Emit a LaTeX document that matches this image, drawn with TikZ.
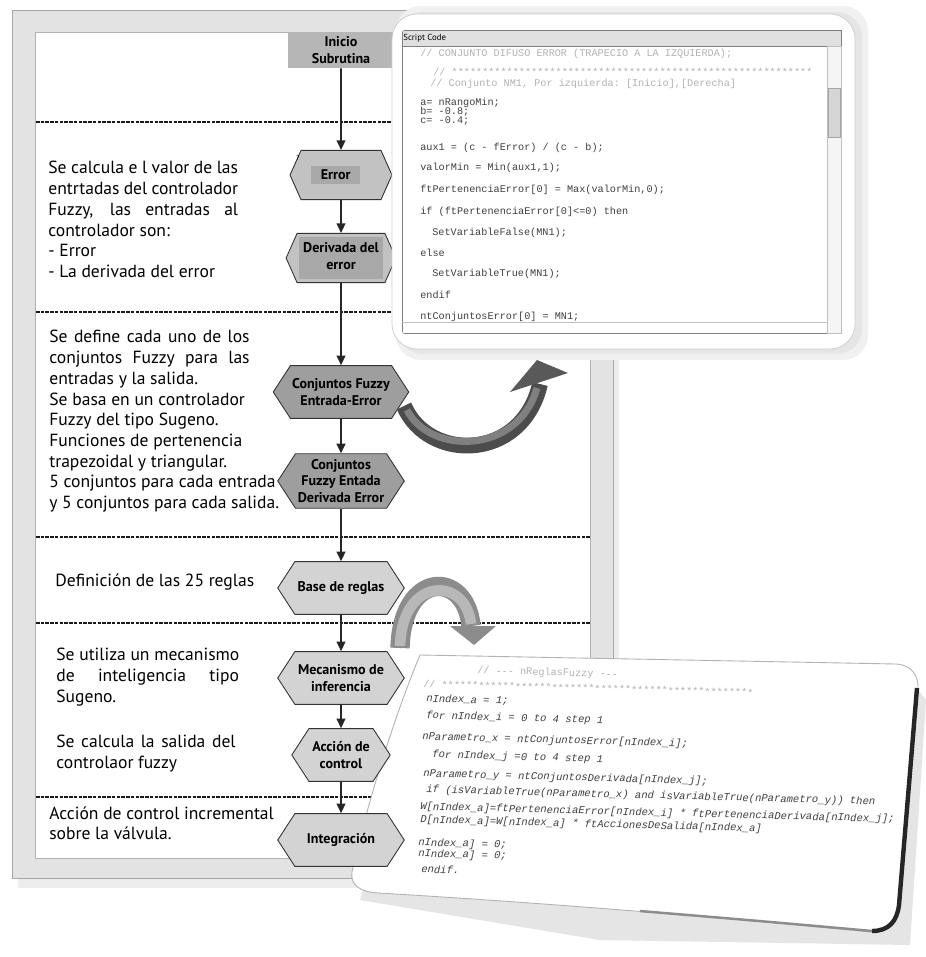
\documentclass[tikz,border=0pt]{standalone}
\usepackage{fontspec}
\setmainfont{PT Sans}
\setmonofont{Liberation Mono}
\usetikzlibrary{shapes.symbols,arrows.meta,positioning}

\definecolor{hexdark}{HTML}{9E9E9E}
\definecolor{hexlight}{HTML}{D3D3D3}
\definecolor{hexmid}{HTML}{C2C2C2}
\definecolor{lblgray}{HTML}{A8A8A8}
\definecolor{inigray}{HTML}{B6B6B6}
\definecolor{bandgray}{HTML}{E3E3E3}

% justified line of a given width
\newcommand{\jl}[2][108pt]{\hbox to #1{#2}}
\newcommand{\lblbox}[1]{{\setlength{\fboxsep}{2.5pt}\colorbox{lblgray}{#1}}}

\tikzset{
  hexbox/.style={signal, signal to=east and west, signal pointer angle=114,
    draw=black!80, line width=0.5pt, align=center, inner sep=1pt,
    font=\bfseries\fontsize{8}{9.6}\selectfont, minimum width=72pt, minimum height=30pt},
  darkhex/.style={hexbox, fill=hexdark},
  lighthex/.style={hexbox, fill=hexlight},
  midhex/.style={hexbox, fill=hexmid, signal pointer angle=132,
    minimum height=28pt, minimum width=58pt},
  flow/.style={line width=1.1pt, black!85, -{Triangle[length=5.5pt,width=5pt]}},
  sepline/.style={line width=1.4pt, black!90, dash pattern=on 2pt off 0.7pt},
  txt/.style={anchor=north west, inner sep=0pt, align=left,
    font=\fontsize{10}{11.8}\selectfont},
  codeln/.style={anchor=west, inner sep=0pt, text=black!75,
    font=\ttfamily\fontsize{5.8}{7}\selectfont},
  faintln/.style={codeln, text=black!30},
  slantln/.style={codeln, font=\ttfamily\itshape\fontsize{6}{7}\selectfont, rotate=-1.5},
}

\begin{document}
\begin{tikzpicture}[x=0.02cm, y=-0.02cm]
  \useasboundingbox (0,0) rectangle (926,957);
  \fill[white] (0,0) rectangle (926,957);

  % Draw the flowchart window
  \fill[black!7] (18,16) rectangle (619,888);
  \filldraw[fill=bandgray, draw=black!35] (12,10) rectangle (613,878);
  \filldraw[fill=white, draw=black!30] (35,32) rectangle (590,858);

  % Separators between the stages
  \foreach \yy in {122, 312, 537, 623, 797}
    \draw[sepline] (36,\yy) -- (590,\yy);

  % Descriptions on the left
  \node[txt] (tcalc) at (48,161) {\jl{Se calcula e l valor de las}\\
    \jl{entrtadas del controlador}\\ \jl{Fuzzy, las entradas al}\\
    controlador son:\\ - Error\\ - La derivada del error};
  \node[txt] (tdef) at (49,330) {\jl[114pt]{Se define cada uno de los}\\
    \jl[114pt]{conjuntos Fuzzy para las}\\ entradas y la salida.\\
    Se basa en un controlador\\ Fuzzy del tipo Sugeno.\\
    Funciones de pertenencia\\ trapezoidal y triangular.\\
    5 conjuntos para cada entrada\\ y 5 conjuntos para cada salida.};
  \node[txt] (treg) at (55,573) {Definición de las 25 reglas};
  \node[txt] (tmec) at (56,648) {Se utiliza un mecanismo\\
    \jl[104pt]{de inteligencia tipo}\\ Sugeno.};
  \node[txt] (tsal) at (56,735) {\jl[102pt]{Se calcula la salida del}\\ controlaor fuzzy};
  \node[txt] (tint) at (49,806) {Acción de control incremental\\ sobre la válvula.};

  % Draw the lower code sheet
  \fill[black!10] (428,663) -- (904,672) -- (926,700) -- (910,945) -- (600,940) -- (360,900) -- cycle;
  \filldraw[fill=white, draw=black!30, line width=0.5pt]
    (420,655) -- (896,664) .. controls (912,665) and (919,676) .. (918,690)
    -- (900,906) .. controls (898,922) and (890,933) .. (872,932)
    .. controls (700,915) and (500,900) .. (378,893)
    .. controls (360,892) and (350,885) .. (352,872)
    .. controls (368,800) and (395,715) .. (420,655) -- cycle;
  \draw[black!85, line width=2.5pt] (917,688) -- (899,905)
    .. controls (897,921) and (889,931) .. (872,931);
  \draw[black!45, line width=1.4pt] (872,931) .. controls (760,921) .. (640,911);

  \node[faintln, rotate=-1.5] (bh) at (477,671) {// --- nReglasFuzzy ---};
  \node[faintln, rotate=-1.5] (bs) at (423,684) {// ***************************************************};
  \foreach \n/\yy/\xx/\t in {
      1/699/426/{nIndex\_a = 1;},
      2/716/426/{for nIndex\_i = 0 to 4 step 1},
      3/737/422/{nParametro\_x = ntConjuntosError[nIndex\_i];},
      4/755/432/{for nIndex\_j =0 to 4 step 1},
      5/774/423/{nParametro\_y = ntConjuntosDerivada[nIndex\_j];},
      6/790/426/{if (isVariableTrue(nParametro\_x) and isVariableTrue(nParametro\_y)) then},
      7/807/420/{W[nIndex\_a]=ftPertenenciaError[nIndex\_i] * ftPertenenciaDerivada[nIndex\_j];},
      8/820/420/{D[nIndex\_a]=W[nIndex\_a] * ftAccionesDeSalida[nIndex\_a]},
      9/843/418/{nIndex\_a] = 0;},
      10/854/418/{nIndex\_a] = 0;},
      11/869/421/{endif.}}
    \node[slantln] (bc\n) at (\xx,\yy) {\t};

  % Flowchart
  \node[fill=inigray, align=center, inner sep=1pt, minimum width=60pt, minimum height=20.5pt,
    font=\bfseries\fontsize{8}{9.6}\selectfont] (ini) at (341,50) {Inicio\\Subrutina};
  \node[midhex] (err) at (341,175) {\lblbox{\hspace{3pt}Error\hspace{3pt}}\hspace{6pt}};
  \node[inner sep=0pt, font=\fontsize{4}{4}\selectfont] (errq) at (298,158) {?};
  \node[midhex] (der) at (341,258) {\lblbox{\begin{tabular}{@{}c@{}}Derivada del\\error\end{tabular}}};
  \node[darkhex] (cfe) at (341,392) {Conjuntos Fuzzy\\Entrada-Error};
  \node[darkhex, minimum height=31pt] (cfd) at (341,481) {Conjuntos\\Fuzzy Entada\\Derivada Error};
  \node[lighthex] (base) at (341,588) {Base de reglas};
  \node[lighthex] (mec) at (341,678) {Mecanismo de\\inferencia};
  \node[lighthex, minimum width=56pt] (acc) at (341,755) {Acción de\\control};
  \node[lighthex] (integ) at (341,840) {Integración};

  \foreach \a/\b in {ini/err, err/der, der/cfe, cfe/cfd, cfd/base, base/mec, mec/acc, acc/integ}
    \draw[flow] (\a) -- (\b);

  % Draw the upper code window
  \fill[black!6, rounded corners=0.5cm] (396,6) rectangle (868,360);
  \fill[black!10, rounded corners=0.5cm] (398,12) rectangle (862,354);
  \filldraw[fill=white, draw=black!20, rounded corners=0.5cm] (392,14) rectangle (855,349);
  \begin{scope}
    \clip[rounded corners=0.4cm] (399,23) rectangle (848,341);
    \filldraw[fill=white, draw=black!50] (402,30) rectangle (841,333);
    \filldraw[fill=black!12, draw=black!50] (402,30) rectangle (841,46);
    \filldraw[fill=black!4, draw=black!25] (827,46) rectangle (841,333);
    \filldraw[fill=black!16, draw=black!35] (828,88) rectangle (840,137);
    \draw[black!25] (402,322) -- (827,322);
    \node[anchor=west, inner sep=0pt, font=\fontsize{5}{6}\selectfont] (scr) at (403,38) {Script Code};
  \end{scope}

  \node[faintln] (th1) at (420,54) {// CONJUNTO DIFUSO ERROR  (TRAPECIO A LA IZQUIERDA);};
  \node[faintln] (th2) at (433,72) {// ***********************************************************};
  \node[faintln] (th3) at (430,84) {// Conjunto NM1, Por izquierda: [Inicio],[Derecha]};
  \foreach \n/\yy/\xx/\t in {
      1/103/420/{a= nRangoMin;},
      2/112/420/{b= -0.8;},
      3/121/420/{c= -0.4;},
      4/148/420/{aux1 = (c - fError) / (c - b);},
      5/168/420/{valorMin = Min(aux1,1);},
      6/190/420/{ftPertenenciaError[0] = Max(valorMin,0);},
      7/212/420/{if (ftPertenenciaError[0]<=0) then},
      8/233/432/{SetVariableFalse(MN1);},
      9/253/420/{else},
      10/274/432/{SetVariableTrue(MN1);},
      11/295/420/{endif},
      12/317/420/{ntConjuntosError[0] = MN1;}}
    \node[codeln] (tc\n) at (\xx,\yy) {\t};

  % Curved arrows pointing to the code
  \draw[line width=9pt, black!70] (404,406) .. controls (428,462) and (522,462) .. (540,384);
  \draw[line width=4pt, black!50] (407,410) .. controls (430,455) and (518,455) .. (537,388);
  \fill[black!65] (510,392) -- (537,360) -- (568,373) -- cycle;

  \draw[line width=11pt, black!45] (400,648) .. controls (402,570) and (466,570) .. (471,626);
  \draw[line width=6pt, black!28] (400,646) .. controls (402,576) and (466,576) .. (471,624);
  \fill[black!45] (450,626) -- (474,645) -- (496,626) -- cycle;
\end{tikzpicture}
\end{document}
